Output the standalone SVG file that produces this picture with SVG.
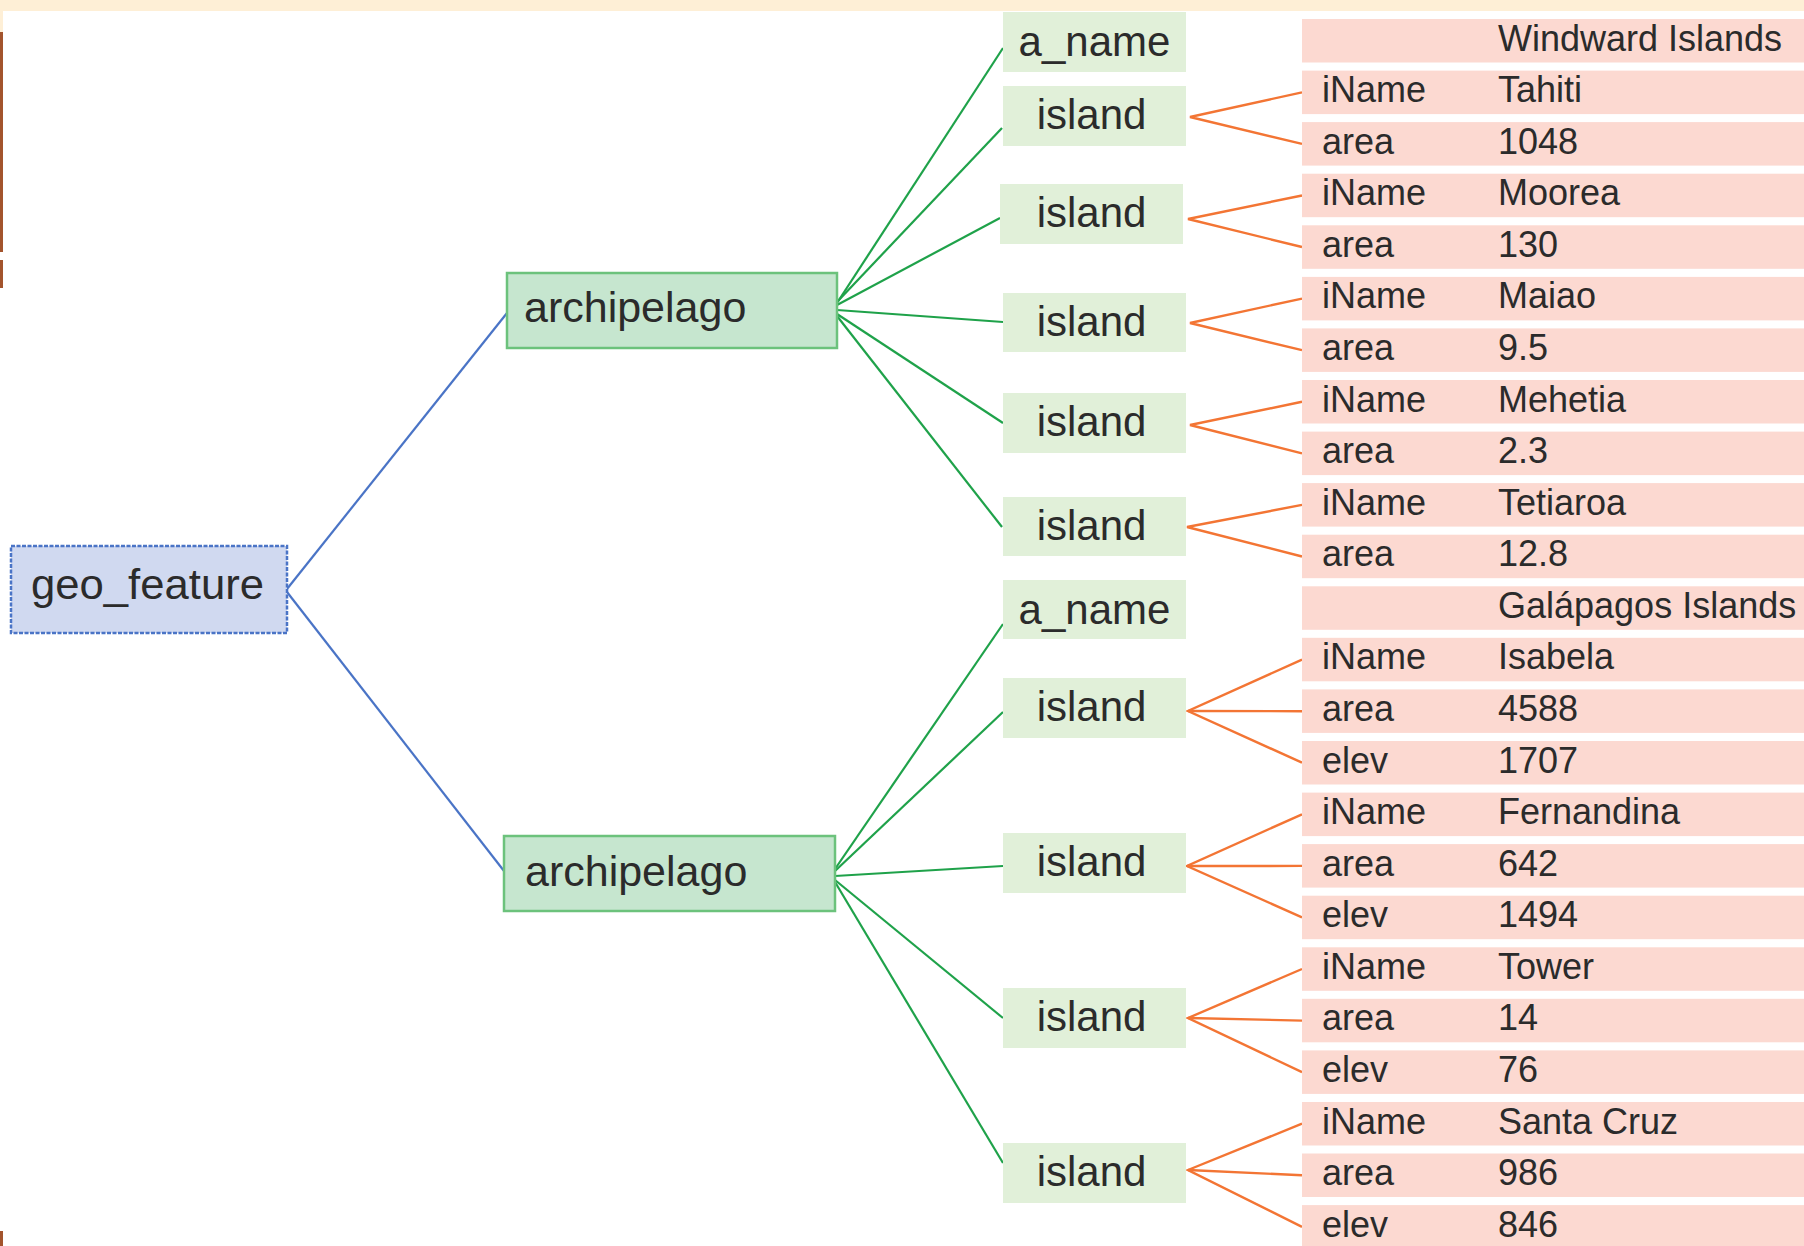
<svg xmlns="http://www.w3.org/2000/svg" width="1804" height="1246" viewBox="0 0 1804 1246">
<style>
text{font-family:"Liberation Sans",Arial,sans-serif;fill:#2b2b2b}
.big{font-size:43px}
.isl{font-size:42px;text-anchor:middle}
.cell{font-size:36px}
.ib{fill:#e1f0d9}
.row{fill:#fcd9d1}
.blue{stroke:#4a74c6;stroke-width:2.2;fill:none}
.green{stroke:#1fa24a;stroke-width:2.2;fill:none}
.orange{stroke:#f37534;stroke-width:2.4;fill:none}
</style>
<rect x="0" y="0" width="1804" height="1246" fill="#ffffff"/>
<rect x="0" y="0" width="1804" height="11" fill="#feefd6"/>
<rect x="0" y="11" width="3" height="21" fill="#feefd6"/>
<rect x="0" y="32" width="3" height="220" fill="#a3542d"/>
<rect x="0" y="260" width="3" height="28" fill="#a3542d"/>
<rect x="0" y="1231" width="3" height="15" fill="#a3542d"/>

<g id="connectors">
<line class="blue" x1="287" y1="589" x2="507" y2="313"/>
<line class="blue" x1="287" y1="592" x2="504" y2="871"/>
<line class="green" x1="837" y1="303" x2="1003" y2="48"/>
<line class="green" x1="837" y1="302" x2="1002" y2="128"/>
<line class="green" x1="837" y1="305" x2="1000" y2="218"/>
<line class="green" x1="837" y1="310" x2="1003" y2="322"/>
<line class="green" x1="837" y1="314" x2="1003" y2="423"/>
<line class="green" x1="837" y1="316" x2="1002" y2="527"/>
<line class="green" x1="835" y1="869" x2="1003" y2="624"/>
<line class="green" x1="835" y1="871" x2="1003" y2="712"/>
<line class="green" x1="835" y1="876" x2="1003" y2="866"/>
<line class="green" x1="835" y1="880" x2="1003" y2="1018"/>
<line class="green" x1="835" y1="882" x2="1003" y2="1163"/>
<polyline class="orange" points="1302,92.3 1190,117 1302,143.9"/>
<polyline class="orange" points="1302,195.5 1188,219 1302,247"/>
<polyline class="orange" points="1302,298.6 1190,323 1302,350.2"/>
<polyline class="orange" points="1302,401.8 1190,425 1302,453.3"/>
<polyline class="orange" points="1302,504.9 1187,527 1302,556.5"/>
<polyline class="orange" points="1302,659.6 1188,711 1302,762.7"/>
<line class="orange" x1="1188" y1="711" x2="1302" y2="711.2"/>
<polyline class="orange" points="1302,814.3 1187,866 1302,917.4"/>
<line class="orange" x1="1187" y1="866" x2="1302" y2="865.9"/>
<polyline class="orange" points="1302,969 1188,1018 1302,1072.2"/>
<line class="orange" x1="1188" y1="1018" x2="1302" y2="1020.6"/>
<polyline class="orange" points="1302,1123.7 1188,1170 1302,1226.9"/>
<line class="orange" x1="1188" y1="1170" x2="1302" y2="1175.3"/>
</g>

<g id="geo_feature">
<rect x="11" y="546" width="276" height="87" fill="#d0d9f0" stroke="#4a74c6" stroke-width="2.5" stroke-dasharray="4 1.5"/>
<text class="big" x="31" y="599" textLength="233" lengthAdjust="spacingAndGlyphs">geo_feature</text>
</g>

<g id="archipelago1">
<rect x="507" y="273" width="330" height="75" fill="#c6e6cf" stroke="#6cc27c" stroke-width="2.5"/>
<text class="big" x="524" y="322">archipelago</text>
</g>
<g id="archipelago2">
<rect x="504" y="836" width="331" height="75" fill="#c6e6cf" stroke="#6cc27c" stroke-width="2.5"/>
<text class="big" x="525" y="886">archipelago</text>
</g>

<g id="a_name1"><rect class="ib" x="1003" y="12" width="183" height="60"/><text class="isl" x="1094.5" y="56">a_name</text></g>
<g id="island1"><rect class="ib" x="1003" y="86" width="183" height="60"/><text class="isl" x="1091.5" y="129">island</text></g>
<g id="island2"><rect class="ib" x="1000" y="184" width="183" height="60"/><text class="isl" x="1091.5" y="227">island</text></g>
<g id="island3"><rect class="ib" x="1003" y="293" width="183" height="59" /><text class="isl" x="1091.5" y="336">island</text></g>
<g id="island4"><rect class="ib" x="1003" y="393" width="183" height="60"/><text class="isl" x="1091.5" y="436">island</text></g>
<g id="island5"><rect class="ib" x="1003" y="497" width="183" height="59"/><text class="isl" x="1091.5" y="540">island</text></g>
<g id="a_name2"><rect class="ib" x="1003" y="580" width="183" height="59"/><text class="isl" x="1094.5" y="624">a_name</text></g>
<g id="island6"><rect class="ib" x="1003" y="678" width="183" height="60"/><text class="isl" x="1091.5" y="721">island</text></g>
<g id="island7"><rect class="ib" x="1003" y="833" width="183" height="60"/><text class="isl" x="1091.5" y="876">island</text></g>
<g id="island8"><rect class="ib" x="1003" y="988" width="183" height="60"/><text class="isl" x="1091.5" y="1031">island</text></g>
<g id="island9"><rect class="ib" x="1003" y="1143" width="183" height="60"/><text class="isl" x="1091.5" y="1186">island</text></g>

<g id="table">
<rect class="row" x="1302" y="19" width="502" height="43.5"/>
<rect class="row" x="1302" y="70.6" width="502" height="43.5"/>
<rect class="row" x="1302" y="122.1" width="502" height="43.5"/>
<rect class="row" x="1302" y="173.7" width="502" height="43.5"/>
<rect class="row" x="1302" y="225.3" width="502" height="43.5"/>
<rect class="row" x="1302" y="276.9" width="502" height="43.5"/>
<rect class="row" x="1302" y="328.4" width="502" height="43.5"/>
<rect class="row" x="1302" y="380" width="502" height="43.5"/>
<rect class="row" x="1302" y="431.6" width="502" height="43.5"/>
<rect class="row" x="1302" y="483.1" width="502" height="43.5"/>
<rect class="row" x="1302" y="534.7" width="502" height="43.5"/>
<rect class="row" x="1302" y="586.3" width="502" height="43.5"/>
<rect class="row" x="1302" y="637.8" width="502" height="43.5"/>
<rect class="row" x="1302" y="689.4" width="502" height="43.5"/>
<rect class="row" x="1302" y="741" width="502" height="43.5"/>
<rect class="row" x="1302" y="792.6" width="502" height="43.5"/>
<rect class="row" x="1302" y="844.1" width="502" height="43.5"/>
<rect class="row" x="1302" y="895.7" width="502" height="43.5"/>
<rect class="row" x="1302" y="947.3" width="502" height="43.5"/>
<rect class="row" x="1302" y="998.8" width="502" height="43.5"/>
<rect class="row" x="1302" y="1050.4" width="502" height="43.5"/>
<rect class="row" x="1302" y="1102" width="502" height="43.5"/>
<rect class="row" x="1302" y="1153.5" width="502" height="43.5"/>
<rect class="row" x="1302" y="1205.1" width="502" height="43.5"/>

<text class="cell" x="1498" y="50.5">Windward Islands</text>
<text class="cell" x="1322" y="102.1">iName</text><text class="cell" x="1498" y="102.1">Tahiti</text>
<text class="cell" x="1322" y="153.6">area</text><text class="cell" x="1498" y="153.6">1048</text>
<text class="cell" x="1322" y="205.2">iName</text><text class="cell" x="1498" y="205.2">Moorea</text>
<text class="cell" x="1322" y="256.8">area</text><text class="cell" x="1498" y="256.8">130</text>
<text class="cell" x="1322" y="308.4">iName</text><text class="cell" x="1498" y="308.4">Maiao</text>
<text class="cell" x="1322" y="359.9">area</text><text class="cell" x="1498" y="359.9">9.5</text>
<text class="cell" x="1322" y="411.5">iName</text><text class="cell" x="1498" y="411.5">Mehetia</text>
<text class="cell" x="1322" y="463.1">area</text><text class="cell" x="1498" y="463.1">2.3</text>
<text class="cell" x="1322" y="514.6">iName</text><text class="cell" x="1498" y="514.6">Tetiaroa</text>
<text class="cell" x="1322" y="566.2">area</text><text class="cell" x="1498" y="566.2">12.8</text>
<text class="cell" x="1498" y="617.8">Galápagos Islands</text>
<text class="cell" x="1322" y="669.3">iName</text><text class="cell" x="1498" y="669.3">Isabela</text>
<text class="cell" x="1322" y="720.9">area</text><text class="cell" x="1498" y="720.9">4588</text>
<text class="cell" x="1322" y="772.5">elev</text><text class="cell" x="1498" y="772.5">1707</text>
<text class="cell" x="1322" y="824.1">iName</text><text class="cell" x="1498" y="824.1">Fernandina</text>
<text class="cell" x="1322" y="875.6">area</text><text class="cell" x="1498" y="875.6">642</text>
<text class="cell" x="1322" y="927.2">elev</text><text class="cell" x="1498" y="927.2">1494</text>
<text class="cell" x="1322" y="978.8">iName</text><text class="cell" x="1498" y="978.8">Tower</text>
<text class="cell" x="1322" y="1030.3">area</text><text class="cell" x="1498" y="1030.3">14</text>
<text class="cell" x="1322" y="1081.9">elev</text><text class="cell" x="1498" y="1081.9">76</text>
<text class="cell" x="1322" y="1133.5">iName</text><text class="cell" x="1498" y="1133.5">Santa Cruz</text>
<text class="cell" x="1322" y="1185">area</text><text class="cell" x="1498" y="1185">986</text>
<text class="cell" x="1322" y="1236.6">elev</text><text class="cell" x="1498" y="1236.6">846</text>
</g>
</svg>
